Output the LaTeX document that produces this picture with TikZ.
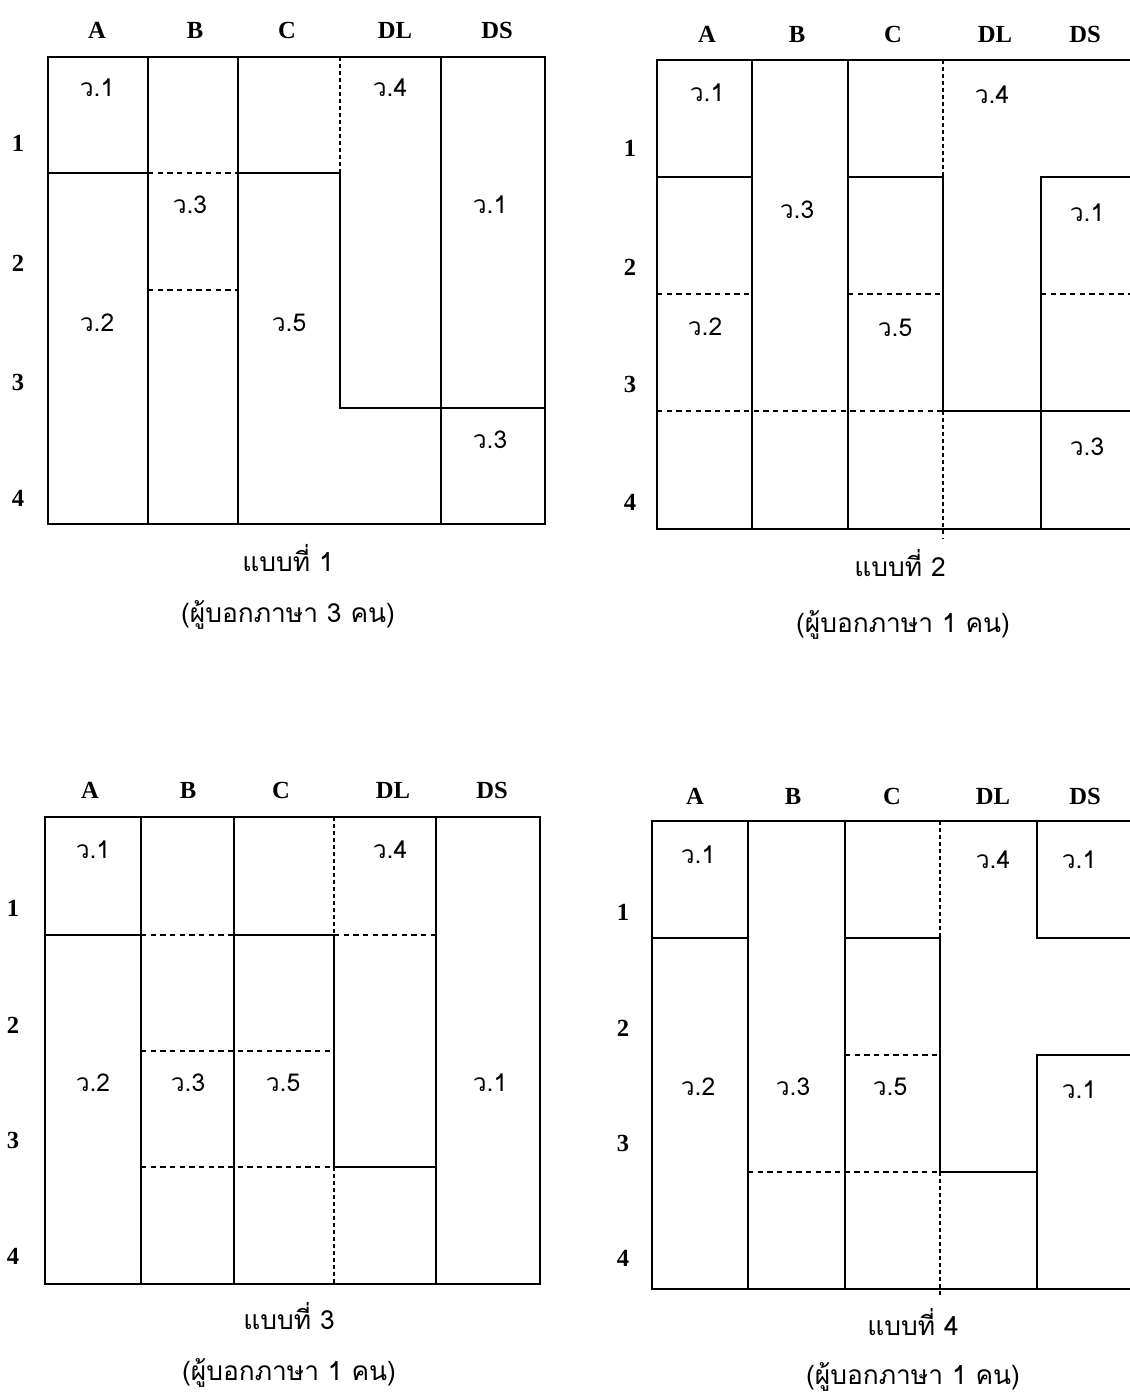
\documentclass[tikz,border=0pt]{standalone}
\usepackage{fontspec}
\setmainfont{Liberation Serif}
\newfontfamily\thaifont[Script=Thai]{Loma}
\usetikzlibrary{positioning}
\tikzset{
    wall/.style={line width=1.4pt},
    split/.style={line width=0.7pt, dash pattern=on 3pt off 2.5pt},
    vsplit/.style={line width=0.9pt, dash pattern=on 2pt off 2pt},
    colhead/.style={inner sep=0pt, font=\fontsize{14}{16}\selectfont\bfseries},
    rowhead/.style={inner sep=0pt, font=\fontsize{14}{16}\selectfont\bfseries},
    cell/.style={inner sep=0pt, font=\thaifont\fontsize{14}{16}\selectfont},
    caption/.style={inner sep=0pt, font=\thaifont\fontsize{15}{18}\selectfont}
}
\begin{document}
\begin{tikzpicture}[x=0.02cm, y=-0.02cm]
\useasboundingbox (0,0) rectangle (1130,1394);

% Pattern 1
\foreach \x/\t in {97/A,195/B,287/C,395/DL,497/DS}
    \node[colhead] (g1-\t) at (\x,30) {\t};
\foreach \y/\t in {143/1,263/2,382/3,498/4}
    \node[rowhead] (g1-r\t) at (18,\y) {\t};
\draw[wall] (48,57) rectangle (545,524);
\draw[wall] (148,57) -- (148,524);
\draw[wall] (238,57) -- (238,524);
\draw[wall] (441,57) -- (441,524);
\draw[wall] (48,173) -- (148,173);
\draw[wall] (238,173) -- (340,173) -- (340,408) -- (545,408);
\draw[split] (148,173) -- (238,173);
\draw[split] (148,290) -- (238,290);
\draw[vsplit] (340,57) -- (340,173);
\node[cell] (g1-a1) at (97,88) {ว.1};
\node[cell] (g1-dl4) at (390,88) {ว.4};
\node[cell] (g1-b3) at (190,205) {ว.3};
\node[cell] (g1-ds1) at (490,205) {ว.1};
\node[cell] (g1-a2) at (97,323) {ว.2};
\node[cell] (g1-c5) at (289,323) {ว.5};
\node[cell] (g1-ds3) at (490,440) {ว.3};
\node[caption] (g1-cap) at (288,558) {แบบที่ 1};
\node[caption] (g1-who) at (288,615) {(ผู้บอกภาษา 3 คน)};

% Pattern 2
\foreach \x/\t in {707/A,797/B,893/C,995/DL,1085/DS}
    \node[colhead] (g2-\t) at (\x,34) {\t};
\foreach \y/\t in {148/1,267/2,384/3,502/4}
    \node[rowhead] (g2-r\t) at (630,\y) {\t};
\draw[wall] (1130,60) -- (657,60) -- (657,529) -- (1130,529);
\draw[wall] (752,60) -- (752,529);
\draw[wall] (848,60) -- (848,529);
\draw[wall] (657,177) -- (752,177);
\draw[wall] (848,177) -- (943,177) -- (943,411) -- (1130,411);
\draw[wall] (1130,177) -- (1041,177) -- (1041,529);
\draw[split] (657,294) -- (752,294);
\draw[split] (848,294) -- (943,294);
\draw[split] (1041,294) -- (1130,294);
\draw[split] (657,411) -- (943,411);
\draw[vsplit] (943,60) -- (943,177);
\draw[vsplit] (943,411) -- (943,538);
\node[cell] (g2-a1) at (707,93) {ว.1};
\node[cell] (g2-dl4) at (992,95) {ว.4};
\node[cell] (g2-b3) at (797,210) {ว.3};
\node[cell] (g2-ds1) at (1087,213) {ว.1};
\node[cell] (g2-a2) at (705,327) {ว.2};
\node[cell] (g2-c5) at (895,328) {ว.5};
\node[cell] (g2-ds3) at (1087,447) {ว.3};
\node[caption] (g2-cap) at (900,563) {แบบที่ 2};
\node[caption] (g2-who) at (903,625) {(ผู้บอกภาษา 1 คน)};

% Pattern 3
\foreach \x/\t in {90/A,188/B,281/C,393/DL,492/DS}
    \node[colhead] (g3-\t) at (\x,790) {\t};
\foreach \y/\t in {908/1,1025/2,1140/3,1256/4}
    \node[rowhead] (g3-r\t) at (13,\y) {\t};
\draw[wall] (45,817) rectangle (540,1284);
\draw[wall] (141,817) -- (141,1284);
\draw[wall] (234,817) -- (234,1284);
\draw[wall] (436,817) -- (436,1284);
\draw[wall] (45,935) -- (141,935);
\draw[wall] (234,935) -- (334,935) -- (334,1167) -- (436,1167);
\draw[split] (141,935) -- (234,935);
\draw[split] (334,935) -- (436,935);
\draw[split] (141,1051) -- (334,1051);
\draw[split] (141,1167) -- (334,1167);
\draw[vsplit] (334,817) -- (334,935);
\draw[vsplit] (334,1167) -- (334,1284);
\node[cell] (g3-a1) at (93,850) {ว.1};
\node[cell] (g3-dl4) at (390,850) {ว.4};
\node[cell] (g3-a2) at (93,1083) {ว.2};
\node[cell] (g3-b3) at (188,1083) {ว.3};
\node[cell] (g3-c5) at (283,1083) {ว.5};
\node[cell] (g3-ds1) at (490,1083) {ว.1};
\node[caption] (g3-cap) at (289,1316) {แบบที่ 3};
\node[caption] (g3-who) at (289,1373) {(ผู้บอกภาษา 1 คน)};

% Pattern 4
\foreach \x/\t in {695/A,793/B,892/C,993/DL,1085/DS}
    \node[colhead] (g4-\t) at (\x,796) {\t};
\foreach \y/\t in {912/1,1028/2,1143/3,1258/4}
    \node[rowhead] (g4-r\t) at (623,\y) {\t};
\draw[wall] (1130,821) -- (652,821) -- (652,1289) -- (1130,1289);
\draw[wall] (748,821) -- (748,1289);
\draw[wall] (845,821) -- (845,1289);
\draw[wall] (652,938) -- (748,938);
\draw[wall] (845,938) -- (940,938) -- (940,1172) -- (1037,1172);
\draw[wall] (1037,821) -- (1037,938) -- (1130,938);
\draw[wall] (1130,1055) -- (1037,1055) -- (1037,1289);
\draw[split] (845,1055) -- (940,1055);
\draw[split] (748,1172) -- (940,1172);
\draw[vsplit] (940,821) -- (940,938);
\draw[vsplit] (940,1172) -- (940,1297);
\node[cell] (g4-a1) at (698,855) {ว.1};
\node[cell] (g4-dl4) at (993,860) {ว.4};
\node[cell] (g4-ds1) at (1079,860) {ว.1};
\node[cell] (g4-a2) at (698,1087) {ว.2};
\node[cell] (g4-b3) at (793,1087) {ว.3};
\node[cell] (g4-c5) at (890,1087) {ว.5};
\node[cell] (g4-ds2) at (1079,1090) {ว.1};
\node[caption] (g4-cap) at (913,1322) {แบบที่ 4};
\node[caption] (g4-who) at (913,1377) {(ผู้บอกภาษา 1 คน)};

\end{tikzpicture}
\end{document}
